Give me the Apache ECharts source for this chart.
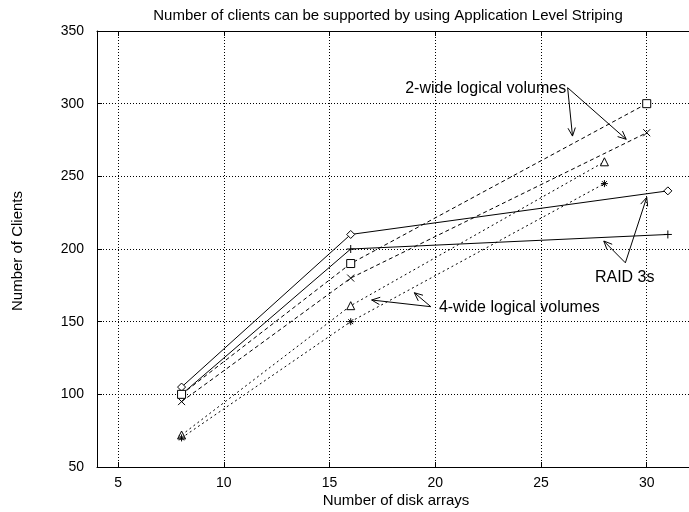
<!DOCTYPE html>
<html>
<head>
<meta charset="utf-8">
<script src="https://cdn.jsdelivr.net/npm/echarts@6/dist/echarts.min.js"></script>
<style>
  html, body { margin: 0; padding: 0; background: #fff; }
  #chart { width: 689px; height: 512px; }
</style>
</head>
<body>
<div id="chart"></div>
<script>
// tick values
const xTicks = [5, 10, 15, 20, 25, 30];

// series: [disk arrays, clients]
const raidDiamond = [[8, 105], [16, 210], [31, 240]];
const raidPlus = [[8, 100], [16, 200], [31, 210]];
const wide2Square = [[8, 100], [16, 190], [30, 300]];
const wide2Cross = [[8, 95], [16, 180], [30, 280]];
const wide4Triangle = [[8, 72], [16, 161], [28, 260]];
const wide4Star = [[8, 70], [16, 150], [28, 245]];

// annotation labels and arrows, in data units
const annoLabels = [
  { text: "2-wide logical volumes", at: [26.19, 310.1], align: "right" },
  { text: "RAID 3s", at: [27.55, 180.0], align: "left" },
  { text: "4-wide logical volumes", at: [20.17, 160.0], align: "left" },
];
const annoArrows = [
  [[26.26, 311.0], [26.49, 277.7]],
  [[26.26, 311.0], [29.03, 275.5]],
  [[28.99, 190.5], [30.0, 235.5]],
  [[28.99, 190.5], [27.97, 205.5]],
  [[19.79, 160.3], [16.99, 164.9]],
  [[19.79, 160.3], [19.01, 169.9]],
];

const FONT = "Liberation Sans";
const plusPath = "path://M0,5L10,5M5,0L5,10";
const crossPath = "path://M0,0L10,10M10,0L0,10";
const starPath = "path://M0,5L10,5M5,0L5,10M1.5,1.5L8.5,8.5M8.5,1.5L1.5,8.5";

const chart = echarts.init(document.getElementById("chart"));

function makeSeries(data, symbol, dash, size) {
  return {
    type: "line",
    data: data,
    symbol: symbol,
    symbolSize: size,
    lineStyle: { color: "#000", width: 1, type: dash },
    itemStyle: { color: "#fff", borderColor: "#000", borderWidth: 1 },
    emphasis: { disabled: true },
    z: 3,
  };
}

const axisCommon = {
  type: "value",
  min: 4,
  max: 32,
  axisLine: { show: true, lineStyle: { color: "#000", width: 1 } },
  axisTick: { show: true, inside: true, length: 5, customValues: xTicks, lineStyle: { color: "#000" } },
};

chart.setOption({
  animation: false,
  title: {
    text: "Number of clients can be supported by using Application Level Striping",
    left: 383,
    top: 3,
    textAlign: "center",
    textStyle: { fontSize: 15, fontWeight: "normal", fontFamily: FONT, color: "#000" },
  },
  grid: { left: 97, top: 31, right: -7, bottom: 45 },
  xAxis: [
    Object.assign({}, axisCommon, {
      position: "bottom",
      axisLabel: {
        customValues: xTicks,
        margin: 9,
        fontSize: 14,
        fontFamily: FONT,
        color: "#000",
      },
      splitLine: { show: true, lineStyle: { color: "#000", width: 1, type: [1, 2] } },
    }),
    Object.assign({}, axisCommon, {
      position: "top",
      axisLabel: { show: false },
      splitLine: { show: false },
    }),
  ],
  yAxis: [
    {
      type: "value",
      min: 50,
      max: 350,
      interval: 50,
      position: "left",
      axisLine: { show: true, lineStyle: { color: "#000", width: 1 } },
      axisTick: { show: true, inside: true, length: 5, lineStyle: { color: "#000" } },
      axisLabel: { margin: 13, fontSize: 14, fontFamily: FONT, color: "#000" },
      splitLine: { show: true, lineStyle: { color: "#000", width: 1, type: [1, 2] } },
    },
  ],
  series: [
    makeSeries(raidDiamond, "diamond", "solid", 8),
    makeSeries(raidPlus, plusPath, "solid", 8),
    makeSeries(wide2Square, "rect", [4, 3], 8),
    makeSeries(wide2Cross, crossPath, [4, 3], 7),
    makeSeries(wide4Triangle, "triangle", [2, 3], 8),
    makeSeries(wide4Star, starPath, [2, 3], 7),
  ],
});

// annotations drawn on top, positioned through the grid's own scale
const toPx = (p) => chart.convertToPixel({ gridIndex: 0 }, p);
const graphics = [];

annoArrows.forEach(([from, to]) => {
  const p0 = toPx(from);
  const p1 = toPx(to);
  const ang = Math.atan2(p1[1] - p0[1], p1[0] - p0[0]);
  const len = 9;
  const spread = 0.42;
  const h1 = [p1[0] - len * Math.cos(ang - spread), p1[1] - len * Math.sin(ang - spread)];
  const h2 = [p1[0] - len * Math.cos(ang + spread), p1[1] - len * Math.sin(ang + spread)];
  graphics.push({
    type: "line",
    shape: { x1: p0[0], y1: p0[1], x2: p1[0], y2: p1[1] },
    style: { stroke: "#000", lineWidth: 1 },
    z: 10,
  });
  graphics.push({
    type: "polyline",
    shape: { points: [h1, p1, h2] },
    style: { stroke: "#000", fill: null, lineWidth: 1 },
    z: 10,
  });
});

annoLabels.forEach((a) => {
  const p = toPx(a.at);
  graphics.push({
    type: "text",
    x: p[0],
    y: p[1],
    style: {
      text: a.text,
      font: "16px '" + FONT + "'",
      fill: "#000",
      align: a.align,
      textAlign: a.align,
      verticalAlign: "middle",
      textVerticalAlign: "middle",
    },
    z: 10,
  });
});

// axis names
graphics.push({
  type: "text",
  x: 396,
  y: 501,
  style: {
    text: "Number of disk arrays",
    font: "15px '" + FONT + "'",
    fill: "#000",
    align: "center",
    textAlign: "center",
    verticalAlign: "middle",
    textVerticalAlign: "middle",
  },
});
graphics.push({
  type: "text",
  x: 18,
  y: 251,
  rotation: Math.PI / 2,
  style: {
    text: "Number of Clients",
    font: "15px '" + FONT + "'",
    fill: "#000",
    align: "center",
    textAlign: "center",
    verticalAlign: "middle",
    textVerticalAlign: "middle",
  },
});

chart.setOption({ graphic: graphics });
</script>
</body>
</html>
